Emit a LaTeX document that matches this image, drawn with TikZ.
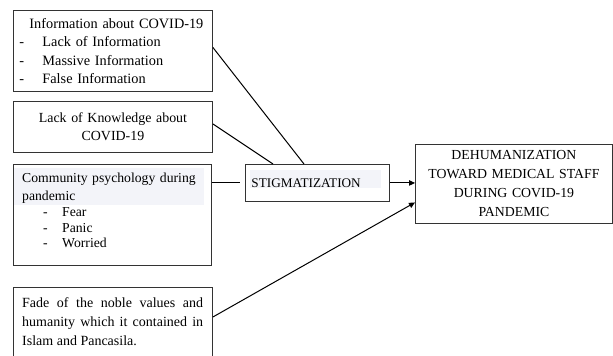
\documentclass[tikz,border=0pt]{standalone}
\usepackage{fontspec}
\setmainfont{Liberation Serif}
\usetikzlibrary{calc,arrows.meta,backgrounds}
\definecolor{hl}{RGB}{243,244,249}
\begin{document}
\begin{tikzpicture}[x=1pt,y=-1pt,
  box/.style={draw=black!80, line width=0.9pt, inner sep=0pt, anchor=north west},
  conn/.style={line width=1pt},
  arr/.style={conn,-{Triangle[length=6pt,width=5.5pt]}},
  plain/.style={inner sep=0pt, anchor=north west}]
\useasboundingbox (0,0) rectangle (613,356);
\clip (0,0) rectangle (613,356);

\node[box, font=\fontsize{14.3}{18.5}\selectfont, minimum width=199pt, minimum height=81pt, text width=187pt, align=left] (b1) at (13,10)
  {\hspace*{10pt}Information about COVID-19\\
   \makebox[23pt][l]{-}Lack of Information\\
   \makebox[23pt][l]{-}Massive Information\\
   \makebox[23pt][l]{-}False Information};

\node[box, font=\fontsize{13.9}{18.5}\selectfont, minimum width=199pt, minimum height=51pt, text width=190pt, align=center] (b2) at (13,101)
  {Lack of Knowledge about\\COVID-19};

\node[box, minimum width=198pt, minimum height=101pt] (b3) at (13,164) {};
\node[plain, font=\fontsize{13.7}{18}\selectfont, text width=185pt, align=left] (b3t) at (22,173)
  {Community psychology during\\
   pandemic\\[-2pt]
   \hspace*{21pt}\makebox[19pt][l]{-}Fear\\[-2.5pt]
   \hspace*{21pt}\makebox[19pt][l]{-}Panic\\[-2.5pt]
   \hspace*{21pt}\makebox[19pt][l]{-}Worried};

\node[box, minimum width=199pt, minimum height=90pt] (b4) at (13,287) {};
\node[plain, font=\fontsize{14}{19}\selectfont, text width=181pt, align=justify] (b4t) at (22,297)
  {Fade of the noble values and\linebreak
   humanity which it contained in\linebreak
   Islam and Pancasila.};

\node[box, font=\fontsize{13.2}{18}\selectfont, minimum width=144pt, minimum height=37pt, text width=132pt, align=left] (stig) at (245,164)
  {STIGMATIZATION};

\node[box, font=\fontsize{13.8}{19}\selectfont, minimum width=197pt, minimum height=79pt, text width=190pt, align=center] (dehum) at (415,144)
  {DEHUMANIZATION\\TOWARD MEDICAL STAFF\\DURING COVID-19\\PANDEMIC};

\begin{scope}[on background layer]
  \fill[hl] ([xshift=0.5pt,yshift=-4pt]b3.north west) rectangle ([xshift=-8pt,yshift=-41pt]b3.north east);
  \fill[hl] ([xshift=5pt,yshift=-6pt]stig.north west) rectangle ([xshift=-9pt,yshift=-24pt]stig.north east);
\end{scope}

\draw[conn] ([yshift=3.5pt]b1.east) -- ([xshift=59pt]stig.north west);
\draw[conn] ([yshift=3pt]b2.east) -- ([xshift=28pt]stig.north west);
\draw[conn] (b3.north east |- stig.west) -- ([xshift=-5pt]stig.west);
\draw[arr] (stig.east) -- (stig.east -| dehum.west);
\draw[arr] ([yshift=-30pt]b4.north east) -- ([yshift=-18.5pt]dehum.west);
\end{tikzpicture}
\end{document}
